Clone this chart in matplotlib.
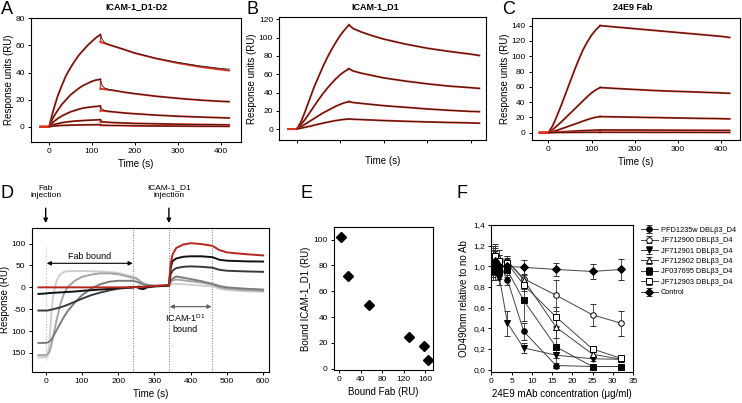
import matplotlib
matplotlib.use("Agg")
import matplotlib.pyplot as plt
import numpy as np

plt.rcParams['font.family'] = ['Liberation Sans', 'DejaVu Sans']
plt.rcParams['axes.linewidth'] = 0.8
plt.rcParams['xtick.major.width'] = 0.7
plt.rcParams['ytick.major.width'] = 0.7
plt.rcParams['xtick.major.size'] = 2.5
plt.rcParams['ytick.major.size'] = 2.5

W, H = 742, 403

# ---------------- DATA ----------------
# Panel A: ICAM-1_D1-D2 sensorgrams
tA_on = [0, 5, 10, 20, 30, 40, 50, 60, 70, 80, 90, 100, 110, 120]
tA_off = [120, 122, 125, 130, 140, 150, 175, 200, 250, 300, 350, 400, 420]
A_on = [
    [0, 6, 12, 22.5, 30.5, 38, 43.5, 48.5, 53, 56.5, 60, 63, 65.8, 68],
    [0, 3.5, 7, 12, 16.5, 20, 23.5, 26, 28.5, 30.5, 32, 33.5, 34.5, 35],
    [0, 2, 3.5, 6, 8, 9.5, 11, 12, 13, 13.8, 14.3, 14.7, 15, 15.3],
    [0, 0.8, 1.5, 2.3, 3, 3.5, 3.9, 4.2, 4.4, 4.6, 4.8, 4.9, 5.1, 5.2],
    [0, 0.3, 0.5, 0.8, 1.0, 1.1, 1.2, 1.3, 1.35, 1.4, 1.45, 1.5, 1.5, 1.5],
]
A_off_data = [
    [68, 66, 64, 62, 60.5, 59.5, 57, 54.5, 50.5, 47.5, 45, 43, 42.5],
    [35, 32, 30, 28.5, 27.5, 27, 25.5, 24.5, 22.5, 21, 19.7, 18.8, 18.5],
    [15.3, 13.5, 12.8, 12, 11.3, 11, 10.2, 9.6, 8.6, 7.8, 7.2, 6.7, 6.5],
    [5.2, 4.4, 4.0, 3.6, 3.3, 3.1, 2.8, 2.5, 2.2, 1.9, 1.7, 1.5, 1.4],
    [1.5, 1.3, 1.2, 1.1, 1.0, 0.95, 0.85, 0.7, 0.6, 0.5, 0.4, 0.35, 0.3],
]
A_off_fit = [
    [62.5, 62.3, 62, 61.5, 60.5, 59.5, 57, 54.3, 50.3, 47, 44.3, 42.2, 41.5],
    [28, 27.9, 27.8, 27.6, 27.2, 26.8, 25.5, 24.4, 22.5, 21, 19.7, 18.8, 18.5],
    [12, 11.9, 11.8, 11.6, 11.3, 11, 10.2, 9.6, 8.6, 7.8, 7.2, 6.7, 6.5],
    [3.5, 3.5, 3.4, 3.4, 3.3, 3.1, 2.8, 2.5, 2.2, 1.9, 1.7, 1.5, 1.4],
    [1.1, 1.1, 1.1, 1.05, 1.0, 0.95, 0.85, 0.7, 0.6, 0.5, 0.4, 0.35, 0.3],
]

# Panel B: ICAM-1_D1 sensorgrams
tB_on = [0, 10, 20, 30, 40, 50, 60, 70, 80, 90, 100, 110, 120]
tB_off = [120, 130, 150, 175, 200, 250, 300, 350, 400, 420]
B_on = [
    [0, 8, 20, 33, 46, 57, 68, 78, 87, 95, 102.5, 108.5, 114],
    [0, 5, 11, 18, 25, 32, 38.5, 44.5, 50, 55, 59.5, 63, 66],
    [0, 2.5, 5.5, 8.5, 11.5, 14.5, 17.5, 20, 22.5, 25, 27, 28.8, 30],
    [0, 1, 2, 3, 4.2, 5.3, 6.4, 7.4, 8.4, 9.3, 10, 10.6, 11],
]
B_off = [
    [114, 110, 106, 102, 98.5, 93, 88.5, 85, 82, 80.5],
    [66, 63.5, 61, 58.5, 56, 52.5, 49.5, 47, 45.3, 44.5],
    [30, 29, 28, 26.8, 25.6, 23.8, 22, 20.5, 19.3, 19],
    [11, 10.7, 10.3, 9.8, 9.3, 8.5, 7.8, 7.2, 6.7, 6.4],
]

# Panel C: 24E9 Fab sensorgrams
tC_on = [0, 10, 20, 30, 40, 50, 60, 70, 80, 90, 100, 110, 120]
tC_off = [120, 150, 200, 250, 300, 350, 400, 420]
C_on = [
    [0, 9, 22, 36, 51, 66, 81, 95, 108, 118.5, 127.5, 134.5, 140],
    [0, 4, 9, 14, 19.5, 25, 30.5, 36, 41.5, 47, 52, 56, 59],
    [0, 1.5, 3, 5, 7, 9, 11, 13, 15, 17, 18.8, 20.2, 21],
    [0, 0.4, 0.8, 1.1, 1.4, 1.7, 2.0, 2.3, 2.6, 2.9, 3.1, 3.3, 3.5],
    [0, 0.1, 0.2, 0.25, 0.3, 0.35, 0.4, 0.45, 0.5, 0.5, 0.5, 0.5, 0.5],
]
C_off = [
    [140, 138.5, 136, 133.5, 131, 128.5, 126, 124.5],
    [59, 58, 56.5, 55, 54, 53, 52, 51.5],
    [21, 20.7, 20.2, 19.7, 19.2, 18.7, 18.3, 18],
    [3.5, 3.5, 3.4, 3.3, 3.2, 3.1, 3.0, 3.0],
    [0.5, 0.5, 0.45, 0.4, 0.4, 0.35, 0.3, 0.3],
]

# Panel D: competition sensorgrams
tD = [-20, 0, 5, 10, 15, 20, 30, 40, 50, 60, 80, 100, 125, 150, 175, 200, 240,
      250, 260, 270, 280, 300, 320, 340, 345, 350, 360, 380, 400, 430, 460, 480,
      500, 550, 600]
D_red = [0, 0, 0, 0, 0, 0, 0, 0, 0, 0, 0, 0, 0, 0, 0, 0, 0,
         1, 0, 1, 2, 3, 4, 5, 55, 75, 90, 98, 101, 99, 95, 85,
         80, 76, 73]
D_black = [-15, -14, -13.5, -13, -12.8, -12.5, -12, -11.5, -11, -10.5, -9.5, -8, -6.5, -5, -3.5, -2, 0,
           1, -3, -4, 0, 2, 3, 4, 45, 60, 66, 70, 71, 71, 69, 63,
           61, 59.5, 59]
D_dark = [-53, -53, -53, -52, -51, -50, -48, -46, -43, -40, -33, -26, -18, -12, -7, -3, 0,
          1, 2, 0, 2, 3, 4, 5, 30, 38, 44, 47, 48, 47, 45, 40,
          38, 36.5, 35.5]
D_grey = [-127, -127, -126, -124, -120, -113, -98, -83, -68, -55, -35, -18, -3, 7, 13, 15, 15,
          13, 10, 6, 4, 3, 3, 3, 15, 20, 25, 22, 19, 14, 8, 3,
          0, -3, -5]
D_lgrey = [-155, -155, -153, -148, -135, -115, -75, -40, -15, 0, 15, 24, 29, 32, 32, 30, 22,
           20, 14, 9, 6, 4, 3.5, 3, 12, 16, 18, 16, 14, 11, 6, 0,
           -3, -6, -8]
D_llgrey = [-160, -160, -158, -130, -70, -20, 15, 30, 35, 37, 37.5, 37.5, 37, 36, 35, 33, 25,
            22, 15, 8, 5, 4, 3, 3, 6, 8, 8, 7, 6, 4, 2, -3,
            -6, -9, -10]

# Panel E
E_fab = [2.6, 17, 56, 130, 159, 165]
E_icam = [102, 72, 49.5, 24.7, 17.8, 7.1]

# Panel F
F_conc = [0.5, 1, 2, 4, 8, 16, 25, 32]
F_labels = ["PFD1235w DBLβ3_D4", "JF712900 DBLβ3_D4", "JF712901 DBLβ3_D4",
            "JF712902 DBLβ3_D4", "JF037695 DBLβ3_D4", "JF712903 DBLβ3_D4", "Control"]
F_vals = [
    [1.05, 1.0, 1.02, 0.87, 0.37, 0.04, 0.03, 0.03],
    [1.08, 1.1, 1.05, 1.05, 0.88, 0.72, 0.53, 0.45],
    [1.0, 1.0, 0.89, 0.45, 0.21, 0.14, 0.105, 0.10],
    [1.1, 1.12, 1.08, 1.05, 0.87, 0.41, 0.15, 0.10],
    [0.95, 0.95, 0.95, 0.96, 0.67, 0.22, 0.03, 0.03],
    [1.05, 1.1, 1.05, 1.03, 0.82, 0.51, 0.20, 0.11],
    [1.0, 1.05, 1.0, 1.0, 0.99, 0.97, 0.95, 0.97],
]
F_err = [
    [0.06, 0.08, 0.06, 0.05, 0.08, 0.02, 0.01, 0.01],
    [0.08, 0.1, 0.06, 0.05, 0.1, 0.15, 0.11, 0.12],
    [0.08, 0.08, 0.07, 0.12, 0.05, 0.03, 0.02, 0.02],
    [0.1, 0.1, 0.08, 0.05, 0.06, 0.1, 0.03, 0.02],
    [0.08, 0.08, 0.07, 0.06, 0.2, 0.2, 0.01, 0.01],
    [0.08, 0.08, 0.06, 0.05, 0.06, 0.1, 0.03, 0.02],
    [0.1, 0.1, 0.08, 0.05, 0.07, 0.06, 0.07, 0.1],
]
F_markers = ['o', 'o', 'v', '^', 's', 's', 'D']
F_fill = [True, False, True, False, True, False, True]

# ---------------- FIGURE ----------------
fig = plt.figure(figsize=(W / 100, H / 100), dpi=100)


def ax_px(l, t, r, b):
    return fig.add_axes([l / W, 1 - b / H, (r - l) / W, (b - t) / H])


def ftext(x, y, s, **kw):
    fig.text(x / W, 1 - y / H, s, **kw)


TICK = 6
LAB = 7
RED = '#e0301e'


def style(ax):
    ax.tick_params(labelsize=TICK, direction='out', top=False, right=False, pad=2)


def sensor(ax, t_on, on, t_off, off_data, off_fit=None):
    for i in range(len(on)):
        fit = off_fit[i] if off_fit is not None else off_data[i]
        ax.plot([-20, 0] + t_on, [0, 0] + on[i], color=RED, lw=1.4)
        ax.plot(t_off, fit, color=RED, lw=1.4)
        ax.plot([120, 120], [on[i][-1], fit[0]], color=RED, lw=1.0)
        ax.plot(t_on, on[i], color='#1a1a1a', lw=0.6)
        ax.plot(t_off, off_data[i], color='#1a1a1a', lw=0.6)


# Panel A
axA = ax_px(31, 18.3, 240.7, 141.7)
sensor(axA, tA_on, A_on, tA_off, A_off_data, A_off_fit)
axA.set_xlim(-42, 447)
axA.set_ylim(-11, 80)
axA.set_xticks([0, 100, 200, 300, 400])
axA.set_yticks([0, 20, 40, 60, 80])
axA.set_xlabel("Time (s)", fontsize=LAB, labelpad=3)
axA.set_ylabel("Response units (RU)", fontsize=LAB, labelpad=1)
style(axA)

# Panel B
axB = ax_px(279.3, 16.7, 485.7, 140)
sensor(axB, tB_on, B_on, tB_off, B_off)
axB.set_xlim(-40, 434.5)
axB.set_ylim(-12, 123)
axB.set_xticks([0, 100, 200, 300, 400])
axB.set_xticklabels([])
axB.set_yticks([0, 20, 40, 60, 80, 100, 120])
axB.set_xlabel("Time (s)", fontsize=LAB, labelpad=7)
axB.set_ylabel("Response units (RU)", fontsize=LAB, labelpad=1)
style(axB)

# Panel C
axC = ax_px(531.7, 18.3, 740, 140)
sensor(axC, tC_on, C_on, tC_off, C_off)
axC.set_xlim(-38.6, 444)
axC.set_ylim(-9.6, 149.6)
axC.set_xticks([0, 100, 200, 300, 400])
axC.set_yticks([0, 20, 40, 60, 80, 100, 120, 140])
axC.set_xlabel("Time (s)", fontsize=LAB, labelpad=3)
axC.set_ylabel("Response units (RU)", fontsize=LAB, labelpad=1)
style(axC)

# Panel D
axD = ax_px(31.7, 227.7, 269.3, 371.7)
axD.plot([0, 0], [-165, 95], color='#bbbbbb', lw=0.8, ls=':')
for xv in [242, 340, 460]:
    axD.axvline(xv, color='#777777', lw=0.7, ls=':')
for ys, c in [(D_llgrey, '#cfcfcf'), (D_lgrey, '#a5a5a5'), (D_grey, '#7c7c7c'),
              (D_dark, '#3a3a3a'), (D_black, '#111111'), (D_red, '#b5271c')]:
    axD.plot(tD, ys, color=c, lw=1.4)
axD.set_xlim(-38.6, 617)
axD.set_ylim(-192.8, 136.4)
axD.set_xticks([0, 100, 200, 300, 400, 500, 600])
axD.set_yticks([100, 50, 0, -50, -100, -150])
axD.set_yticklabels(['100', '50', '0', '-50', '100', '150'])
axD.set_xlabel("Time (s)", fontsize=LAB, labelpad=3)
axD.set_ylabel("Response (RU)", fontsize=LAB, labelpad=1)
style(axD)
axD.annotate('', xy=(3, 55), xytext=(240, 55),
             arrowprops=dict(arrowstyle='<|-|>', color='black', lw=0.8,
                             mutation_scale=6, shrinkA=0, shrinkB=0))
axD.text(121, 70, "Fab bound", fontsize=6.5, ha='center', va='center')
axD.annotate('', xy=(342, -44), xytext=(458, -44),
             arrowprops=dict(arrowstyle='<|-|>', color='#666666', lw=0.9,
                             mutation_scale=6, shrinkA=0, shrinkB=0))
axD.text(384, -71, "ICAM-1$^{\\mathregular{D1}}$", fontsize=6.5, ha='center', va='center')
axD.text(384, -96, "bound", fontsize=6.5, ha='center', va='center')
for xv, lab in [(0, "Fab\ninjection"), (340, "ICAM-1_D1\ninjection")]:
    axD.annotate('', xy=(xv, 147), xytext=(xv, 181), xycoords='data',
                 arrowprops=dict(arrowstyle='-|>', color='black', lw=1.0,
                                 mutation_scale=6, shrinkA=0, shrinkB=0),
                 annotation_clip=False)
    axD.text(xv, 218, lab, fontsize=6, ha='center', va='center',
             linespacing=1.15, clip_on=False)

# Panel E
axE = ax_px(334, 226.7, 433, 370)
axE.plot(E_fab, E_icam, 'D', color='black', ms=5.5, ls='none')
axE.set_xlim(-10, 175)
axE.set_ylim(-1, 110)
axE.set_xticks([0, 40, 80, 120, 160])
axE.set_yticks([0, 20, 40, 60, 80, 100])
axE.set_xlabel("Bound Fab (RU)", fontsize=LAB, labelpad=3)
axE.set_ylabel("Bound ICAM-1_D1 (RU)", fontsize=LAB, labelpad=2)
style(axE)

# Panel F
axF = ax_px(491.3, 225, 633, 371.7)
for i in range(len(F_labels)):
    axF.errorbar(F_conc, F_vals[i], yerr=F_err[i], color='#444444', lw=0.7,
                 marker=F_markers[i], ms=4 if F_markers[i] != 'D' else 3.6,
                 mfc='black' if F_fill[i] else 'white', mec='black', mew=0.7,
                 ecolor='#333333', elinewidth=0.6, capsize=2, capthick=0.6,
                 label=F_labels[i])
axF.set_xlim(0, 35)
axF.set_ylim(-0.02, 1.4)
axF.set_xticks([0, 5, 10, 15, 20, 25, 30, 35])
axF.set_yticks([0, 0.2, 0.4, 0.6, 0.8, 1.0, 1.2, 1.4])
axF.set_yticklabels(['0,0', '0,2', '0,4', '0,6', '0,8', '1,0', '1,2', '1,4'])
axF.set_xlabel("24E9 mAb concentration (μg/ml)", fontsize=LAB, labelpad=3)
axF.set_ylabel("OD490nm relative to no Ab", fontsize=LAB, labelpad=3)
style(axF)
handles, labels = axF.get_legend_handles_labels()
leg = axF.legend(handles, labels, loc='upper left', fontsize=5.3,
                 bbox_to_anchor=((641 - 491.3) / (633 - 491.3), 0.99),
                 frameon=False, handlelength=2.3, handletextpad=0.4,
                 labelspacing=0.45, borderaxespad=0, borderpad=0)

# Titles
ftext(136, 7, "ICAM-1_D1-D2", fontsize=6.5, fontweight='bold', ha='center', va='center')
ftext(375, 7, "ICAM-1_D1", fontsize=6.5, fontweight='bold', ha='center', va='center')
ftext(633, 7, "24E9 Fab", fontsize=6.5, fontweight='bold', ha='center', va='center')

# Panel letters
for x, y, s in [(1, 9, "A"), (246, 9, "B"), (502, 9, "C"),
                (1, 194, "D"), (300, 194, "E"), (456, 194, "F")]:
    ftext(x, y, s, fontsize=13, ha='left', va='center')

fig.savefig("out.png", dpi=100)
